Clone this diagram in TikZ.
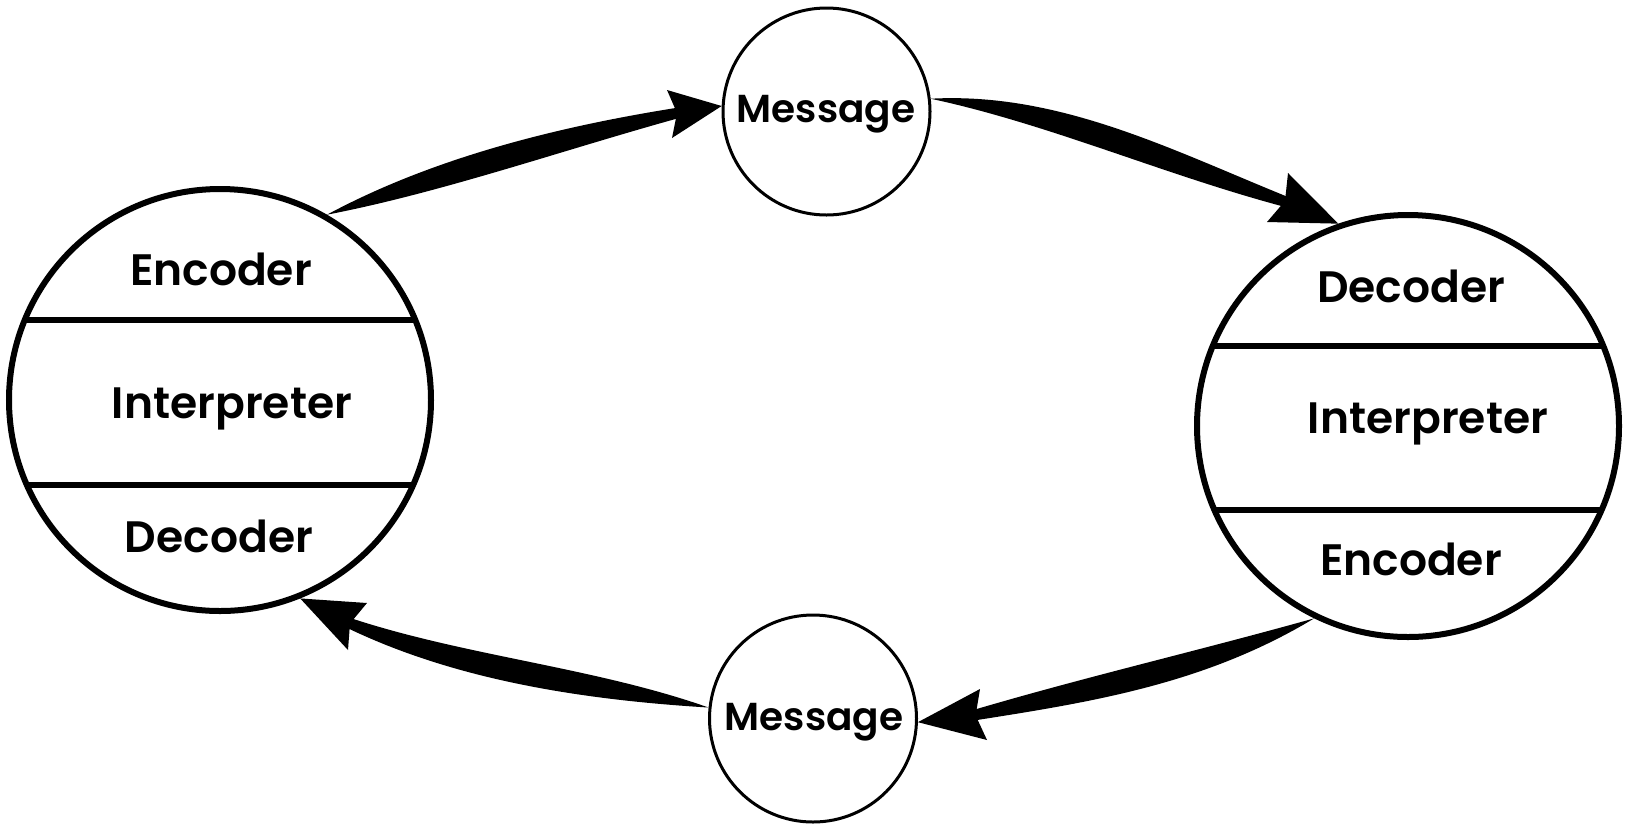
\documentclass[tikz,border=0pt]{standalone}
\usepackage{fontspec}
\setmainfont{Poppins}[BoldFont={Poppins SemiBold}]
\usetikzlibrary{calc}
\begin{document}
\begin{tikzpicture}[x=0.5pt,y=-0.5pt,
  big/.style={circle,draw,line width=3pt,minimum size=211pt,inner sep=0pt},
  msg/.style={circle,draw,line width=1.5pt,minimum size=103.5pt,inner sep=0pt},
  lbl/.style={anchor=base,inner sep=0pt,font=\bfseries\fontsize{22}{22}\selectfont},
  mlbl/.style={anchor=base,inner sep=0pt,font=\bfseries\fontsize{19.5}{19.5}\selectfont},
  divider/.style={line width=3.2pt},
  body/.style={fill=black},
  head/.style={fill=black}]
\useasboundingbox (0,0) rectangle (1627,826);

% circles
\node[big] (L) at (220,400) {};
\node[big] (R) at (1408,426) {};
\node[msg] (M1) at (826.5,111.5) {};
\node[msg] (M2) at (813,718.5) {};

% dividers
\begin{scope}
  \clip (L.center) circle[radius=211];
  \draw[divider] ($(L.center)+(-230,-80)$) -- ($(L.center)+(230,-80)$);
  \draw[divider] ($(L.center)+(-230,85)$) -- ($(L.center)+(230,85)$);
\end{scope}
\begin{scope}
  \clip (R.center) circle[radius=211];
  \draw[divider] ($(R.center)+(-230,-80)$) -- ($(R.center)+(230,-80)$);
  \draw[divider] ($(R.center)+(-230,84)$) -- ($(R.center)+(230,84)$);
\end{scope}

% labels
\node[lbl] (L1) at (221,285) {Encoder};
\node[lbl] (L2) at (232,418) {Interpreter};
\node[lbl] (L3) at (219,552) {Decoder};
\node[lbl] (R1) at (1411,302) {Decoder};
\node[lbl] (R2) at (1428,433) {Interpreter};
\node[lbl] (R3) at (1411,575) {Encoder};
\node[mlbl] (T1) at (826,122) {Message};
\node[mlbl] (T2) at (814,730) {Message};

% notch points of arrowheads
\coordinate (N1) at (677,113);
\coordinate (N2) at (1285,201);
\coordinate (N3) at (975.6,715.4);
\coordinate (N4) at (350,623.5);

% arrow 1: L -> M1
\fill[body] (L.60) .. controls (433,157.7) and (557.6,126.5) .. (680.6,107.2)
  -- (683.4,116.8) .. controls (564.4,149.5) and (443,192.3) .. (L.60) -- cycle;
\fill[head] (M1.177) -- (667,90) -- (N1) -- (672,138) -- cycle;

% arrow 2: M1 -> R
\fill[body] (M1.7) .. controls (1059.8,91.7) and (1172.7,150.5) .. (1291,198.2)
  -- (1288.2,207.8) .. controls (1165.3,175.5) and (1050.2,124.3) .. (M1.7) -- cycle;
\fill[head] (R.109) -- (1288,173) -- (N2) -- (1267,222) -- cycle;

% arrow 3: R -> M2
\fill[body] (R.244) .. controls (1195.3,651.6) and (1084.1,677.1) .. (969.2,711.2)
  -- (972,720.8) .. controls (1091.3,702.1) and (1204.7,684.4) .. (R.244) -- cycle;
\fill[head] (M2.358) -- (980,689) -- (N3) -- (987,740) -- cycle;

% arrow 4: M2 -> L
\fill[body] (M2.174) .. controls (593.9,667) and (462,655.7) .. (346.5,616.7)
  -- (344.3,626.5) .. controls (456,681.1) and (586.1,700) .. (M2.174) -- cycle;
\fill[head] (L.292) -- (367,603) -- (N4) -- (348,650) -- cycle;
\end{tikzpicture}
\end{document}
